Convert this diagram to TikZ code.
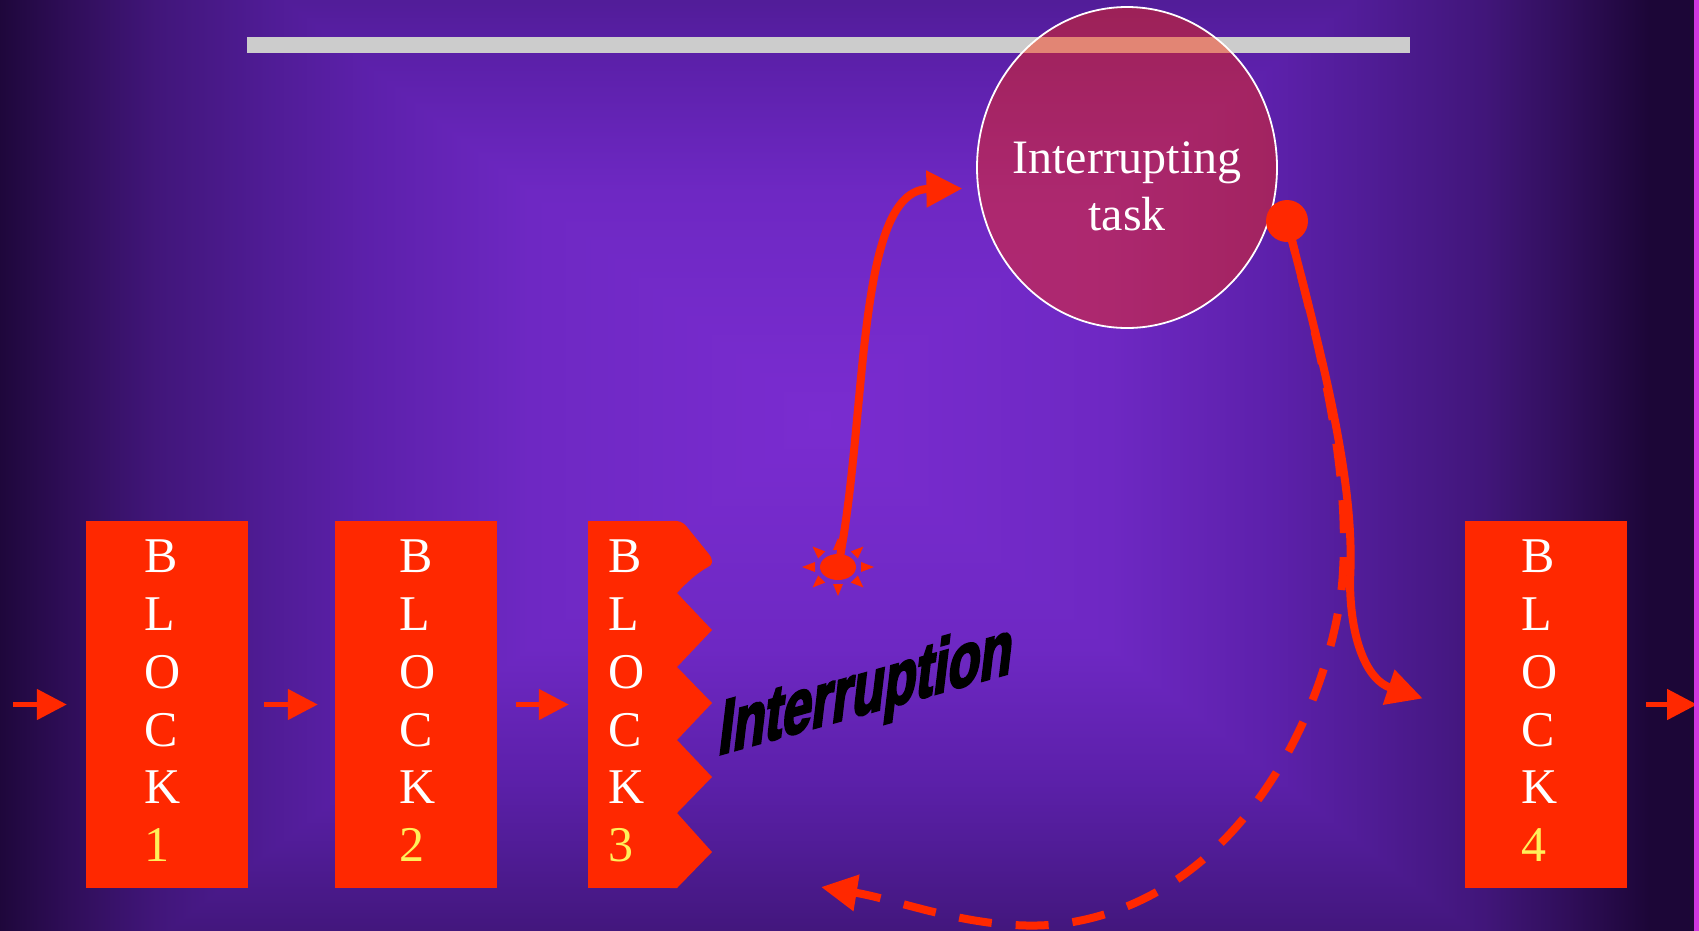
\documentclass[tikz,border=0pt]{standalone}
\usepackage{fontspec}
\setmainfont{Liberation Serif}
\newfontfamily\wordart{Liberation Sans}[UprightFont={* Bold}, FakeBold=4]
\usetikzlibrary{arrows.meta,shapes.geometric}

\definecolor{blockred}{RGB}{255,40,0}
\definecolor{digit}{RGB}{255,240,90}
\definecolor{barGray}{RGB}{204,204,204}
\definecolor{edgeMag}{RGB}{208,56,224}
\definecolor{g0}{RGB}{122,44,208}
\definecolor{g1}{RGB}{110,40,195}
\definecolor{g2}{RGB}{92,32,170}
\definecolor{g3}{RGB}{80,28,150}
\definecolor{g4}{RGB}{65,22,122}
\definecolor{g5}{RGB}{48,14,90}
\definecolor{g6}{RGB}{28,6,55}

% ramps for the rectangular "from centre" background glow
\pgfdeclarehorizontalshading{hramp}{100bp}{color(0bp)=(g6); color(25bp)=(g6);
  color(30bp)=(g5); color(35bp)=(g4); color(42bp)=(g3); color(47.5bp)=(g2);
  color(57.5bp)=(g1); color(75bp)=(g0); color(100bp)=(g0)}
\pgfdeclareverticalshading{vramp}{100bp}{color(0bp)=(g0); color(25bp)=(g0);
  color(42.5bp)=(g1); color(52.5bp)=(g2); color(58bp)=(g3); color(65bp)=(g4);
  color(70bp)=(g5); color(75bp)=(g6); color(100bp)=(g6)}

\begin{document}
\begin{tikzpicture}[x=1pt,y=-1pt,
  blockbox/.style={rectangle, fill=blockred, minimum height=367pt, inner sep=0pt},
  blocklabel/.style={text=white, font=\fontsize{50}{57.8}\selectfont, align=left,
    inner sep=0pt, anchor=north west},
  flowarrow/.style={draw=blockred, line width=5pt, -{Triangle[length=30pt,width=30pt]}},
  connector/.style={draw=blockred, line width=8pt, -{Triangle[length=36pt,width=35pt]}},
  returnpath/.style={connector, dash pattern=on 33pt off 24pt},
  taskbubble/.style={ellipse, minimum width=300pt, minimum height=321pt, inner sep=0pt,
    fill=blockred, fill opacity=0.43, draw=white, line width=1.8pt},
  tasktext/.style={text=white, font=\fontsize{48}{57}\selectfont, align=center, inner sep=0pt},
  wordartlabel/.style={text=black, font=\wordart\fontsize{78}{80}\selectfont, inner sep=0pt}
]
\useasboundingbox (0,0) rectangle (1699,930);

% background: rectangular glow centred at (820,420)
\begin{scope}
  \clip (-5,-5) rectangle (1705,935);
  \fill[g6] (-5,-5) rectangle (1705,935);
  \shade[shading=hramp] (-10,-230) rectangle (820,1070);
  \shade[shading=hramp, shading angle=180] (819,-230) rectangle (1650,1070);
  \begin{scope}
    \clip (820,420) -- (-10,-230) -- (1650,-230) -- cycle;
    \shade[shading=vramp] (-10,-230) rectangle (1650,420);
  \end{scope}
  \begin{scope}
    \clip (820,420) -- (-10,1070) -- (1650,1070) -- cycle;
    \shade[shading=vramp, shading angle=180] (-10,420) rectangle (1650,1070);
  \end{scope}
\end{scope}

% time bar
\fill[barGray] (247,37) rectangle (1410,53);

% interrupting task
\node[taskbubble] (task) at (1127,167.5) {};
\node[tasktext] (tasklabel) at ([yshift=-18.5pt]task.center) {Interrupting\\task};

% blocks
\node[blockbox, minimum width=162pt] (b1) at (167,704.5) {};
\node[blockbox, minimum width=162pt] (b2) at (416,704.5) {};
\node[blockbox, minimum width=89pt] (b3) at (632.5,704.5) {};
\node[blockbox, minimum width=162pt] (b4) at (1546,704.5) {};

% torn edge of block 3
\fill[blockred] (670,521) .. controls (679,520) and (683,522) .. (687,527)
  -- (708,553) .. controls (714,560) and (713,565) .. (708,567)
  .. controls (697,573) and (686,583) .. (677,593)
  -- (712,630) -- (677,667) -- (712,703) -- (677,740) -- (712,777)
  -- (677,813) -- (712,852) -- (677,888) -- (670,888) -- cycle;

\node[blocklabel] (b1t) at ([shift={(58pt,-19pt)}]b1.north west) {B\\L\\O\\C\\K\\\textcolor{digit}{1}};
\node[blocklabel] (b2t) at ([shift={(64pt,-19pt)}]b2.north west) {B\\L\\O\\C\\K\\\textcolor{digit}{2}};
\node[blocklabel] (b3t) at ([shift={(20pt,-19pt)}]b3.north west) {B\\L\\O\\C\\K\\\textcolor{digit}{3}};
\node[blocklabel] (b4t) at ([shift={(56pt,-19pt)}]b4.north west) {B\\L\\O\\C\\K\\\textcolor{digit}{4}};

% flow between blocks
\coordinate (in1) at (13,704.5);
\coordinate (out4) at (1697,704.5);
\draw[flowarrow] (in1) -- ([xshift=-19pt]b1.west);
\draw[flowarrow] ([xshift=16pt]b1.east) -- ([xshift=-17pt]b2.west);
\draw[flowarrow] ([xshift=19pt]b2.east) -- ([xshift=-19pt]b3.west);
\draw[flowarrow] ([xshift=19pt]b4.east) -- (out4);

% interrupt event
\node[ellipse, fill=blockred, minimum width=36pt, minimum height=26pt, inner sep=0pt] (sun) at (838,567) {};
\foreach \a in {0,45,...,315} {
  \fill[blockred, shift={(sun.center)}]
    ({23*cos(\a)-5*sin(\a)},{17*sin(\a)+5*cos(\a)})
    -- ({36*cos(\a)},{29*sin(\a)})
    -- ({23*cos(\a)+5*sin(\a)},{17*sin(\a)-5*cos(\a)}) -- cycle;
}
\draw[connector] (sun.center) .. controls (868,420) and (855,190) .. ([xshift=-15pt]task.188);

% return from the interrupting task
\node[circle, fill=blockred, minimum size=42pt, inner sep=0pt] (dot) at (1287,221) {};
\coordinate (ret) at (821,887);
\draw[returnpath] (dot.center) .. controls (1320,350) and (1352,470) .. (1342,585)
  .. controls (1330,700) and (1245,900) .. (1060,924)
  .. controls (980,933) and (900,900) .. (ret);
\draw[connector] (dot.center) .. controls (1320,350) and (1356,480) .. (1350,580)
  .. controls (1350,640) and (1367,680) .. ([shift={(-42pt,6pt)}]b4.west);

% slanted caption
\begin{scope}[shift={(717,755)}, cm={0.67,0.188,0.12,1,(0,0)}]
  \node[wordartlabel, transform shape, anchor=base west] (intr) at (0,0) {Interruption};
\end{scope}

% right border stripe
\fill[edgeMag] (1694,-5) rectangle (1705,935);
\end{tikzpicture}
\end{document}
